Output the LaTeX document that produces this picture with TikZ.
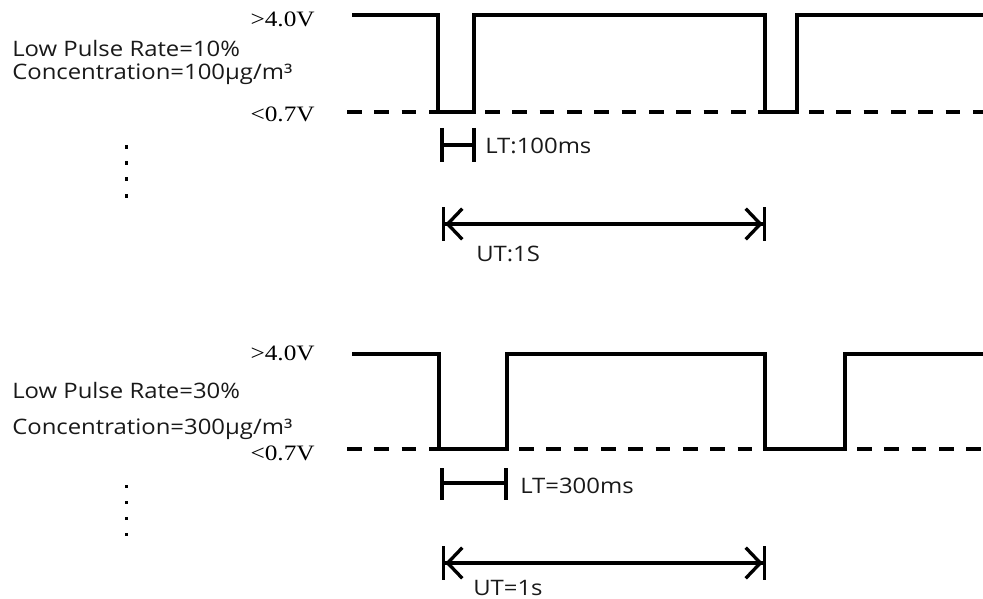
\documentclass[tikz,border=0pt]{standalone}
\usepackage{fontspec}
\setmainfont{Liberation Serif}
\newfontfamily\voltfont[FakeStretch=1.15]{Liberation Serif}
\newfontfamily\notefont[FakeStretch=1.12]{Open Sans}
\usetikzlibrary{arrows.meta}

\begin{document}
\begin{tikzpicture}[x=0.75pt,y=-0.75pt,
  wave/.style={line width=2.5pt,line join=miter},
  lowlevel/.style={line width=2.5pt,dash pattern=on 11pt off 9.5pt},
  volt/.style={font=\voltfont\fontsize{16.5}{18}\selectfont,anchor=base east,inner sep=0pt},
  note/.style={font=\notefont\fontsize{16}{18}\selectfont,anchor=base west,inner sep=0pt,text=black!90},
  dimline/.style={line width=2.5pt},
  span/.style={line width=2.5pt,
    {Bar[width=25pt]Straight Barb[length=11pt,width=23pt]}-{Straight Barb[length=11pt,width=23pt]Bar[width=25pt]}}]
  \useasboundingbox (0,0) rectangle (983,599);

  % Draw upper signal (10%)
  \draw[wave] (352,15) -- (438,15) -- (438,112) -- (474,112) -- (474,15)
        -- (765,15) -- (765,112) -- (797,112) -- (797,15) -- (983,15);
  \draw[lowlevel] (347,112) -- (438,112);
  \draw[lowlevel] (485,112) -- (765,112);
  \draw[lowlevel] (809,112) -- (983,112);
  % Draw upper labels
  \node[volt] (hiA) at (315,27) {>4.0V};
  \node[volt] (loA) at (315,122) {<0.7V};
  \node[note] (rateA) at (12,57) {Low Pulse Rate=10\%};
  \node[note] (concA) at (12,80) {Concentration=100µg/m³};
  % Draw upper dots
  \foreach \y in {147,163,179,196}
    \fill (124.5,\y-1.5) rectangle ++(3.5,3.5);
  % Draw upper LT and UT
  \coordinate (ltA1) at (442,145);
  \coordinate (ltA2) at (474,145);
  \draw[dimline] (442,128) -- (442,162);
  \draw[dimline] (474,128) -- (474,162);
  \draw[dimline] (ltA1) -- (ltA2);
  \node[note] (ltA) at (485,154) {LT:100ms};
  \coordinate (utA1) at (442,224);
  \coordinate (utA2) at (766,224);
  \draw[span] (utA1) -- (utA2);
  \node[note] (utA) at (476,262) {UT:1S};

  % Draw lower signal (30%)
  \draw[wave] (352,354) -- (439,354) -- (439,449) -- (507,449) -- (507,354)
        -- (765,354) -- (765,449) -- (845,449) -- (845,354) -- (983,354);
  \draw[lowlevel] (347,449) -- (439,449);
  \draw[lowlevel] (519,449) -- (765,449);
  \draw[lowlevel] (857,449) -- (983,449);
  % Draw lower labels
  \node[volt] (hiB) at (315,360) {>4.0V};
  \node[volt] (loB) at (315,460) {<0.7V};
  \node[note] (rateB) at (12,398) {Low Pulse Rate=30\%};
  \node[note] (concB) at (12,435) {Concentration=300µg/m³};
  % Draw lower dots
  \foreach \y in {486,502,518,534}
    \fill (124.5,\y-1.5) rectangle ++(3.5,3.5);
  % Draw lower LT and UT
  \coordinate (ltB1) at (442,483);
  \coordinate (ltB2) at (506,483);
  \draw[dimline] (442,468) -- (442,500);
  \draw[dimline] (506,468) -- (506,500);
  \draw[dimline] (ltB1) -- (ltB2);
  \node[note] (ltB) at (520,493) {LT=300ms};
  \coordinate (utB1) at (442,563);
  \coordinate (utB2) at (766,563);
  \draw[span] (utB1) -- (utB2);
  \node[note] (utB) at (473,595) {UT=1s};
\end{tikzpicture}
\end{document}
